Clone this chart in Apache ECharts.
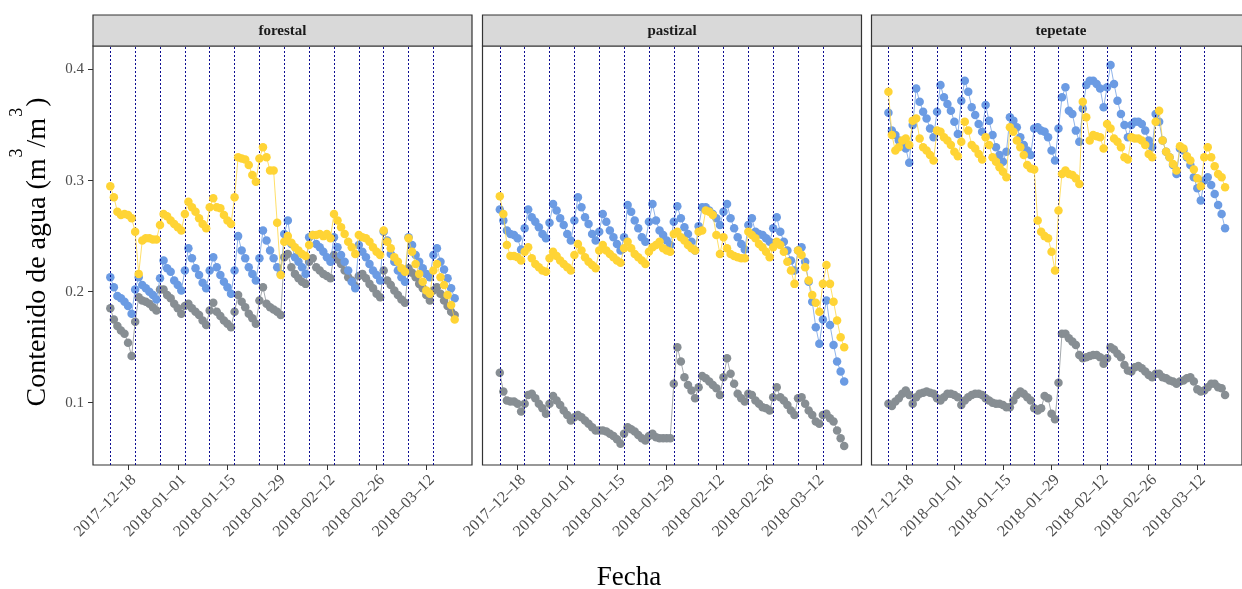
<!DOCTYPE html>
<html>
<head>
<meta charset="utf-8">
<script src="https://cdn.jsdelivr.net/npm/echarts@6/dist/echarts.min.js"></script>
<style>
  html, body { margin: 0; padding: 0; background: #fff; }
  #chart { width: 1242px; height: 589px; }
</style>
</head>
<body>
<div id="chart"></div>
<script>
// Daily soil water content, 2017-12-13 .. 2018-03-20, three land covers.
const startDay = [2017, 11, 13];
const dayCount = 98;

const panels = ['forestal', 'pastizal', 'tepetate'];

// Weekly irrigation dates (dotted verticals)
const weekLines = ['2017-12-13', '2017-12-20', '2017-12-27', '2018-01-03', '2018-01-10',
  '2018-01-17', '2018-01-24', '2018-01-31', '2018-02-07', '2018-02-14', '2018-02-21',
  '2018-02-28', '2018-03-07', '2018-03-14'];

const tickDates = ['2017-12-18', '2018-01-01', '2018-01-15', '2018-01-29',
  '2018-02-12', '2018-02-26', '2018-03-12'];
const yTicks = [0.1, 0.2, 0.3, 0.4];

// forestal
const forestalYellow = [
  0.295, 0.285, 0.272, 0.269, 0.270, 0.269, 0.266,
  0.254, 0.216, 0.246, 0.248, 0.248, 0.247, 0.247,
  0.260, 0.270, 0.268, 0.264, 0.261, 0.258, 0.255,
  0.270, 0.281, 0.276, 0.272, 0.266, 0.261, 0.257,
  0.276, 0.284, 0.276, 0.275, 0.269, 0.264, 0.261,
  0.285, 0.321, 0.320, 0.319, 0.314, 0.305, 0.299,
  0.320, 0.330, 0.321, 0.309, 0.309, 0.262, 0.215,
  0.245, 0.250, 0.244, 0.240, 0.237, 0.234, 0.232,
  0.242, 0.251, 0.251, 0.252, 0.250, 0.252, 0.248,
  0.270, 0.264, 0.258, 0.252, 0.245, 0.240, 0.234,
  0.251, 0.249, 0.248, 0.245, 0.240, 0.236, 0.233,
  0.255, 0.245, 0.239, 0.231, 0.227, 0.221, 0.218,
  0.248, 0.236, 0.225, 0.216, 0.209, 0.201, 0.198,
  0.219, 0.225, 0.213, 0.206, 0.197, 0.188, 0.175];
const forestalBlue = [
  0.213, 0.204, 0.196, 0.194, 0.191, 0.187, 0.180,
  0.202, 0.213, 0.206, 0.203, 0.200, 0.197, 0.193,
  0.212, 0.228, 0.221, 0.218, 0.210, 0.206, 0.201,
  0.219, 0.239, 0.230, 0.221, 0.215, 0.208, 0.203,
  0.219, 0.231, 0.222, 0.215, 0.209, 0.204, 0.198,
  0.219, 0.250, 0.237, 0.230, 0.222, 0.216, 0.210,
  0.230, 0.255, 0.246, 0.237, 0.230, 0.222, 0.216,
  0.252, 0.264, 0.243, 0.231, 0.227, 0.222, 0.216,
  0.249, 0.251, 0.243, 0.240, 0.236, 0.231, 0.227,
  0.249, 0.240, 0.233, 0.227, 0.219, 0.209, 0.203,
  0.242, 0.236, 0.231, 0.225, 0.219, 0.215, 0.210,
  0.254, 0.246, 0.234, 0.227, 0.219, 0.213, 0.209,
  0.249, 0.242, 0.233, 0.227, 0.221, 0.216, 0.213,
  0.233, 0.239, 0.227, 0.220, 0.212, 0.203, 0.194];
const forestalGray = [
  0.185, 0.175, 0.169, 0.165, 0.162, 0.154, 0.142,
  0.173, 0.195, 0.192, 0.191, 0.189, 0.186, 0.183,
  0.202, 0.202, 0.197, 0.194, 0.189, 0.185, 0.180,
  0.187, 0.189, 0.185, 0.182, 0.179, 0.174, 0.170,
  0.183, 0.190, 0.182, 0.178, 0.174, 0.171, 0.168,
  0.182, 0.197, 0.191, 0.186, 0.180, 0.176, 0.171,
  0.192, 0.204, 0.189, 0.186, 0.184, 0.182, 0.179,
  0.231, 0.234, 0.222, 0.216, 0.212, 0.209, 0.207,
  0.227, 0.230, 0.222, 0.219, 0.216, 0.214, 0.212,
  0.233, 0.229, 0.225, 0.219, 0.213, 0.210, 0.205,
  0.214, 0.216, 0.212, 0.207, 0.203, 0.198, 0.195,
  0.219, 0.210, 0.206, 0.201, 0.197, 0.193, 0.190,
  0.221, 0.217, 0.213, 0.207, 0.203, 0.197, 0.192,
  0.201, 0.204, 0.198, 0.192, 0.187, 0.182, 0.179];

// pastizal
const pastizalYellow = [
  0.286, 0.270, 0.242, 0.232, 0.232, 0.231, 0.228,
  0.236, 0.240, 0.230, 0.225, 0.222, 0.219, 0.218,
  0.230, 0.236, 0.232, 0.228, 0.225, 0.222, 0.219,
  0.233, 0.243, 0.237, 0.231, 0.227, 0.224, 0.221,
  0.237, 0.242, 0.237, 0.234, 0.231, 0.228, 0.226,
  0.239, 0.245, 0.239, 0.234, 0.231, 0.228, 0.225,
  0.236, 0.240, 0.242, 0.245, 0.239, 0.237, 0.236,
  0.252, 0.254, 0.249, 0.246, 0.242, 0.239, 0.237,
  0.254, 0.255, 0.273, 0.272, 0.269, 0.251, 0.234,
  0.249, 0.239, 0.234, 0.232, 0.231, 0.230, 0.230,
  0.254, 0.251, 0.248, 0.243, 0.240, 0.236, 0.231,
  0.240, 0.245, 0.242, 0.236, 0.227, 0.219, 0.207,
  0.237, 0.233, 0.222, 0.210, 0.197, 0.190, 0.182,
  0.207, 0.224, 0.207, 0.191, 0.174, 0.159, 0.150];
const pastizalBlue = [
  0.274, 0.264, 0.255, 0.252, 0.251, 0.248, 0.238,
  0.257, 0.274, 0.267, 0.263, 0.258, 0.252, 0.248,
  0.262, 0.279, 0.273, 0.266, 0.260, 0.252, 0.246,
  0.264, 0.285, 0.276, 0.267, 0.261, 0.252, 0.246,
  0.254, 0.270, 0.263, 0.255, 0.249, 0.243, 0.237,
  0.249, 0.278, 0.272, 0.264, 0.257, 0.249, 0.245,
  0.263, 0.279, 0.264, 0.255, 0.251, 0.246, 0.242,
  0.263, 0.277, 0.266, 0.258, 0.252, 0.245, 0.237,
  0.259, 0.276, 0.276, 0.273, 0.270, 0.266, 0.260,
  0.272, 0.279, 0.266, 0.257, 0.249, 0.243, 0.238,
  0.260, 0.266, 0.254, 0.252, 0.251, 0.248, 0.245,
  0.257, 0.267, 0.254, 0.245, 0.237, 0.228, 0.219,
  0.237, 0.240, 0.227, 0.209, 0.191, 0.168, 0.153,
  0.175, 0.192, 0.170, 0.152, 0.137, 0.128, 0.119];
const pastizalGray = [
  0.127, 0.110, 0.102, 0.101, 0.101, 0.099, 0.092,
  0.099, 0.107, 0.108, 0.104, 0.099, 0.095, 0.090,
  0.099, 0.106, 0.102, 0.098, 0.093, 0.089, 0.084,
  0.087, 0.089, 0.087, 0.084, 0.081, 0.078, 0.075,
  0.075, 0.075, 0.074, 0.072, 0.070, 0.067, 0.063,
  0.072, 0.078, 0.076, 0.074, 0.071, 0.068, 0.066,
  0.070, 0.072, 0.069, 0.068, 0.068, 0.068, 0.068,
  0.117, 0.150, 0.137, 0.123, 0.116, 0.111, 0.104,
  0.114, 0.124, 0.122, 0.119, 0.116, 0.113, 0.107,
  0.123, 0.140, 0.126, 0.117, 0.108, 0.104, 0.101,
  0.108, 0.107, 0.102, 0.099, 0.096, 0.095, 0.093,
  0.105, 0.114, 0.105, 0.102, 0.098, 0.093, 0.089,
  0.104, 0.105, 0.099, 0.093, 0.089, 0.083, 0.081,
  0.089, 0.090, 0.086, 0.083, 0.075, 0.068, 0.061];

// tepetate
const tepetateYellow = [
  0.380, 0.341, 0.327, 0.330, 0.336, 0.338, 0.332,
  0.354, 0.356, 0.338, 0.330, 0.327, 0.323, 0.318,
  0.345, 0.344, 0.339, 0.336, 0.332, 0.326, 0.322,
  0.335, 0.353, 0.345, 0.332, 0.329, 0.324, 0.319,
  0.339, 0.332, 0.321, 0.317, 0.312, 0.308, 0.303,
  0.348, 0.344, 0.336, 0.330, 0.323, 0.314, 0.311,
  0.310, 0.264, 0.254, 0.250, 0.248, 0.236, 0.219,
  0.273, 0.306, 0.309, 0.306, 0.305, 0.302, 0.297,
  0.371, 0.357, 0.336, 0.341, 0.340, 0.339, 0.329,
  0.351, 0.347, 0.338, 0.335, 0.330, 0.321, 0.319,
  0.339, 0.338, 0.338, 0.336, 0.332, 0.324, 0.321,
  0.353, 0.363, 0.336, 0.326, 0.321, 0.315, 0.309,
  0.331, 0.329, 0.322, 0.318, 0.310, 0.302, 0.295,
  0.321, 0.330, 0.321, 0.313, 0.306, 0.303, 0.294];
const tepetateBlue = [
  0.361, 0.345, 0.341, 0.336, 0.332, 0.329, 0.316,
  0.350, 0.383, 0.371, 0.362, 0.356, 0.347, 0.339,
  0.362, 0.386, 0.375, 0.369, 0.363, 0.353, 0.342,
  0.372, 0.390, 0.380, 0.366, 0.359, 0.351, 0.344,
  0.368, 0.354, 0.341, 0.330, 0.323, 0.317, 0.326,
  0.357, 0.354, 0.348, 0.339, 0.332, 0.327, 0.323,
  0.347, 0.348, 0.345, 0.344, 0.339, 0.327, 0.318,
  0.347, 0.375, 0.384, 0.363, 0.360, 0.345, 0.335,
  0.365, 0.386, 0.390, 0.390, 0.387, 0.383, 0.366,
  0.384, 0.404, 0.387, 0.372, 0.360, 0.350, 0.339,
  0.350, 0.353, 0.353, 0.351, 0.345, 0.336, 0.330,
  0.360, 0.353, 0.336, 0.326, 0.321, 0.314, 0.306,
  0.329, 0.327, 0.321, 0.314, 0.303, 0.293, 0.282,
  0.300, 0.303, 0.296, 0.288, 0.278, 0.270, 0.257];
const tepetateGray = [
  0.099, 0.097, 0.101, 0.104, 0.108, 0.111, 0.107,
  0.099, 0.105, 0.108, 0.109, 0.110, 0.109, 0.108,
  0.104, 0.102, 0.105, 0.108, 0.108, 0.107, 0.105,
  0.098, 0.102, 0.105, 0.107, 0.108, 0.108, 0.107,
  0.104, 0.102, 0.100, 0.099, 0.099, 0.098, 0.096,
  0.096, 0.102, 0.107, 0.110, 0.108, 0.105, 0.102,
  0.095, 0.093, 0.095, 0.106, 0.104, 0.090, 0.085,
  0.118, 0.162, 0.162, 0.158, 0.155, 0.152, 0.143,
  0.140, 0.141, 0.142, 0.143, 0.143, 0.141, 0.135,
  0.140, 0.150, 0.148, 0.144, 0.141, 0.134, 0.129,
  0.128, 0.132, 0.133, 0.131, 0.128, 0.125, 0.123,
  0.126, 0.126, 0.123, 0.122, 0.120, 0.119, 0.117,
  0.119, 0.120, 0.122, 0.123, 0.119, 0.112, 0.110,
  0.111, 0.114, 0.117, 0.117, 0.114, 0.113, 0.107];

const panelSeries = [
  [forestalGray, forestalBlue, forestalYellow],
  [pastizalGray, pastizalBlue, pastizalYellow],
  [tepetateGray, tepetateBlue, tepetateYellow]
];
const seriesColors = ['#878e93', '#6b9be3', '#ffd435'];

// ---- layout ----
const SERIF = '"Liberation Serif", "DejaVu Serif", serif';
const panelLeft = [93, 482.5, 871.5];
const panelWidth = 379;
const panelTop = 46;
const panelHeight = 419;
const stripTop = 15;

function parseDay(s) {
  const p = s.split('-').map(Number);
  return new Date(p[0], p[1] - 1, p[2]).getTime();
}
function fmtDay(v) {
  const d = new Date(v);
  const mm = String(d.getMonth() + 1).padStart(2, '0');
  const dd = String(d.getDate()).padStart(2, '0');
  return d.getFullYear() + '\u2013' + mm + '\u2013' + dd;
}
const days = [];
for (let i = 0; i < dayCount; i++) {
  days.push(new Date(startDay[0], startDay[1], startDay[2] + i).getTime());
}
const xMin = new Date(2017, 11, 8, 3).getTime();
const xMax = new Date(2018, 2, 24, 21).getTime();
const yMin = 0.0439, yMax = 0.4212;
const tickTimes = tickDates.map(parseDay);

const grids = [], xAxes = [], yAxes = [], series = [], graphics = [];

panels.forEach((name, p) => {
  grids.push({
    left: panelLeft[p], top: panelTop, width: panelWidth, height: panelHeight,
    show: true, borderColor: '#333333', borderWidth: 1.2, backgroundColor: '#ffffff',
    containLabel: false
  });
  xAxes.push({
    type: 'value', gridIndex: p, min: xMin, max: xMax,
    axisLine: { show: false },
    splitLine: { show: false },
    axisTick: {
      show: true, length: 5, customValues: tickTimes,
      lineStyle: { color: '#333333', width: 1 }
    },
    axisLabel: {
      show: true, rotate: 45, margin: 7, customValues: tickTimes,
      verticalAlign: 'top',
      fontFamily: SERIF, fontSize: 16, color: '#4d4d4d',
      formatter: v => fmtDay(v)
    }
  });
  yAxes.push({
    type: 'value', gridIndex: p, min: yMin, max: yMax,
    axisLine: { show: false },
    splitLine: { show: false },
    axisTick: {
      show: p === 0, length: 5, customValues: yTicks,
      lineStyle: { color: '#333333', width: 1 }
    },
    axisLabel: {
      show: p === 0, customValues: yTicks, margin: 9,
      fontFamily: SERIF, fontSize: 15, color: '#4d4d4d',
      formatter: v => v.toFixed(1)
    }
  });

  panelSeries[p].forEach((vals, k) => {
    const s = {
      type: 'line', xAxisIndex: p, yAxisIndex: p,
      data: vals.map((v, i) => [days[i], v]),
      symbol: 'circle', symbolSize: 8.5, showSymbol: true,
      lineStyle: { color: seriesColors[k], width: 1, opacity: 0.75 },
      itemStyle: { color: seriesColors[k], borderWidth: 0 },
      silent: true, z: 3 + k
    };
    if (k === 0) {
      s.markLine = {
        silent: true, symbol: ['none', 'none'], animation: false,
        label: { show: false },
        lineStyle: { type: [2, 2], color: '#00008b', width: 1, opacity: 0.95 },
        data: weekLines.map(d => ({ xAxis: parseDay(d) }))
      };
    }
    series.push(s);
  });

  // facet strip
  graphics.push({
    type: 'rect', silent: true,
    shape: { x: panelLeft[p], y: stripTop, width: panelWidth, height: panelTop - stripTop },
    style: { fill: '#d9d9d9', stroke: '#333333', lineWidth: 1.2 }
  });
  graphics.push({
    type: 'text', silent: true,
    x: panelLeft[p] + panelWidth / 2, y: (stripTop + panelTop) / 2 + 1,
    style: {
      text: name, fill: '#1a1a1a', font: 'bold 15px ' + SERIF,
      align: 'center', verticalAlign: 'middle'
    }
  });
});

// axis titles
graphics.push({
  type: 'text', silent: true, x: 30, y: 252, rotation: Math.PI / 2,
  style: {
    text: '{a|Contenido de agua (m}{s|3}{a|/m}{s|3}{a|)}',
    align: 'center', verticalAlign: 'middle',
    rich: {
      a: { fontFamily: SERIF, fontSize: 28, fill: '#000', verticalAlign: 'bottom' },
      s: { fontFamily: SERIF, fontSize: 18, fill: '#000', verticalAlign: 'bottom', padding: [0, 1, 25, 1] }
    }
  }
});
graphics.push({
  type: 'text', silent: true, x: 629, y: 578,
  style: {
    text: 'Fecha', fill: '#000', font: '27px ' + SERIF,
    align: 'center', verticalAlign: 'middle'
  }
});

const chart = echarts.init(document.getElementById('chart'), null, { renderer: 'canvas' });
chart.setOption({
  animation: false,
  backgroundColor: '#ffffff',
  grid: grids, xAxis: xAxes, yAxis: yAxes, series: series,
  graphic: { elements: graphics }
});
</script>
</body>
</html>
